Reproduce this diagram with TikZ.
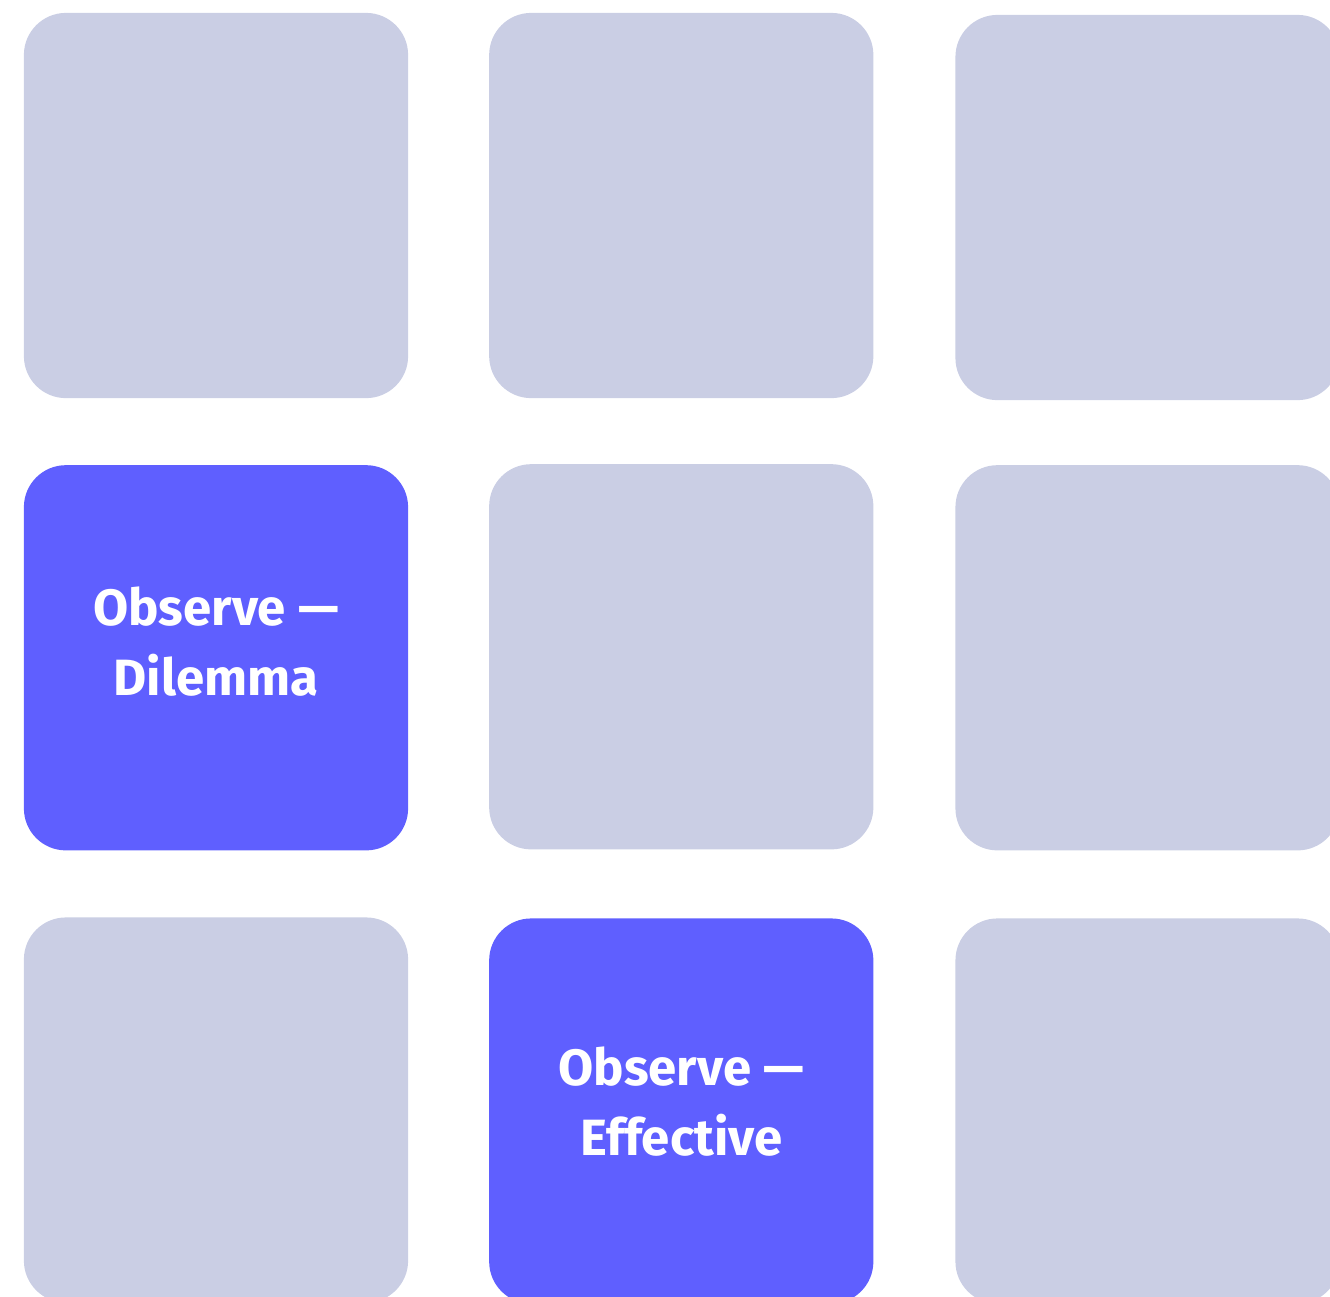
\documentclass[tikz,border=0pt]{standalone}
\usepackage{fontspec}
\setmainfont{Fira Sans}
\usetikzlibrary{positioning}
\definecolor{tilex}{HTML}{CACEE4}
\definecolor{bluex}{HTML}{5F5FFF}
\tikzset{
  tile/.style={fill=tilex,rounded corners=0.42cm,minimum width=3.84cm,minimum height=3.85cm,inner sep=0pt,outer sep=0pt},
  hot/.style={tile,fill=bluex},
  hottext/.style={text=white,align=center,yshift=0.16cm,font=\bfseries\fontsize{14.5}{19.9}\selectfont}
}
\begin{document}
\begin{tikzpicture}[x=0.01cm,y=-0.01cm]
\useasboundingbox (0,0) rectangle (1330,1296);
\clip (0,0) rectangle (1330,1296);
% top row
\node[tile] (t11) at (216,205.5) {};
\node[tile,right=0.81cm of t11] (t12) {};
\node[tile,right=0.82cm of t12,yshift=-0.02cm] (t13) {};
% middle row
\node[hot,below=0.67cm of t11,label={[hottext]center:Observe ---\\Dilemma}] (t21) {};
\node[tile,right=0.81cm of t21,yshift=0.01cm] (t22) {};
\node[tile,right=0.82cm of t22,yshift=-0.01cm] (t23) {};
% bottom row
\node[tile,below=0.67cm of t21] (t31) {};
\node[hot,right=0.81cm of t31,yshift=-0.01cm,label={[hottext,yshift=-0.07cm]center:Observe ---\\Effective}] (t32) {};
\node[tile,right=0.82cm of t32] (t33) {};
\end{tikzpicture}
\end{document}
